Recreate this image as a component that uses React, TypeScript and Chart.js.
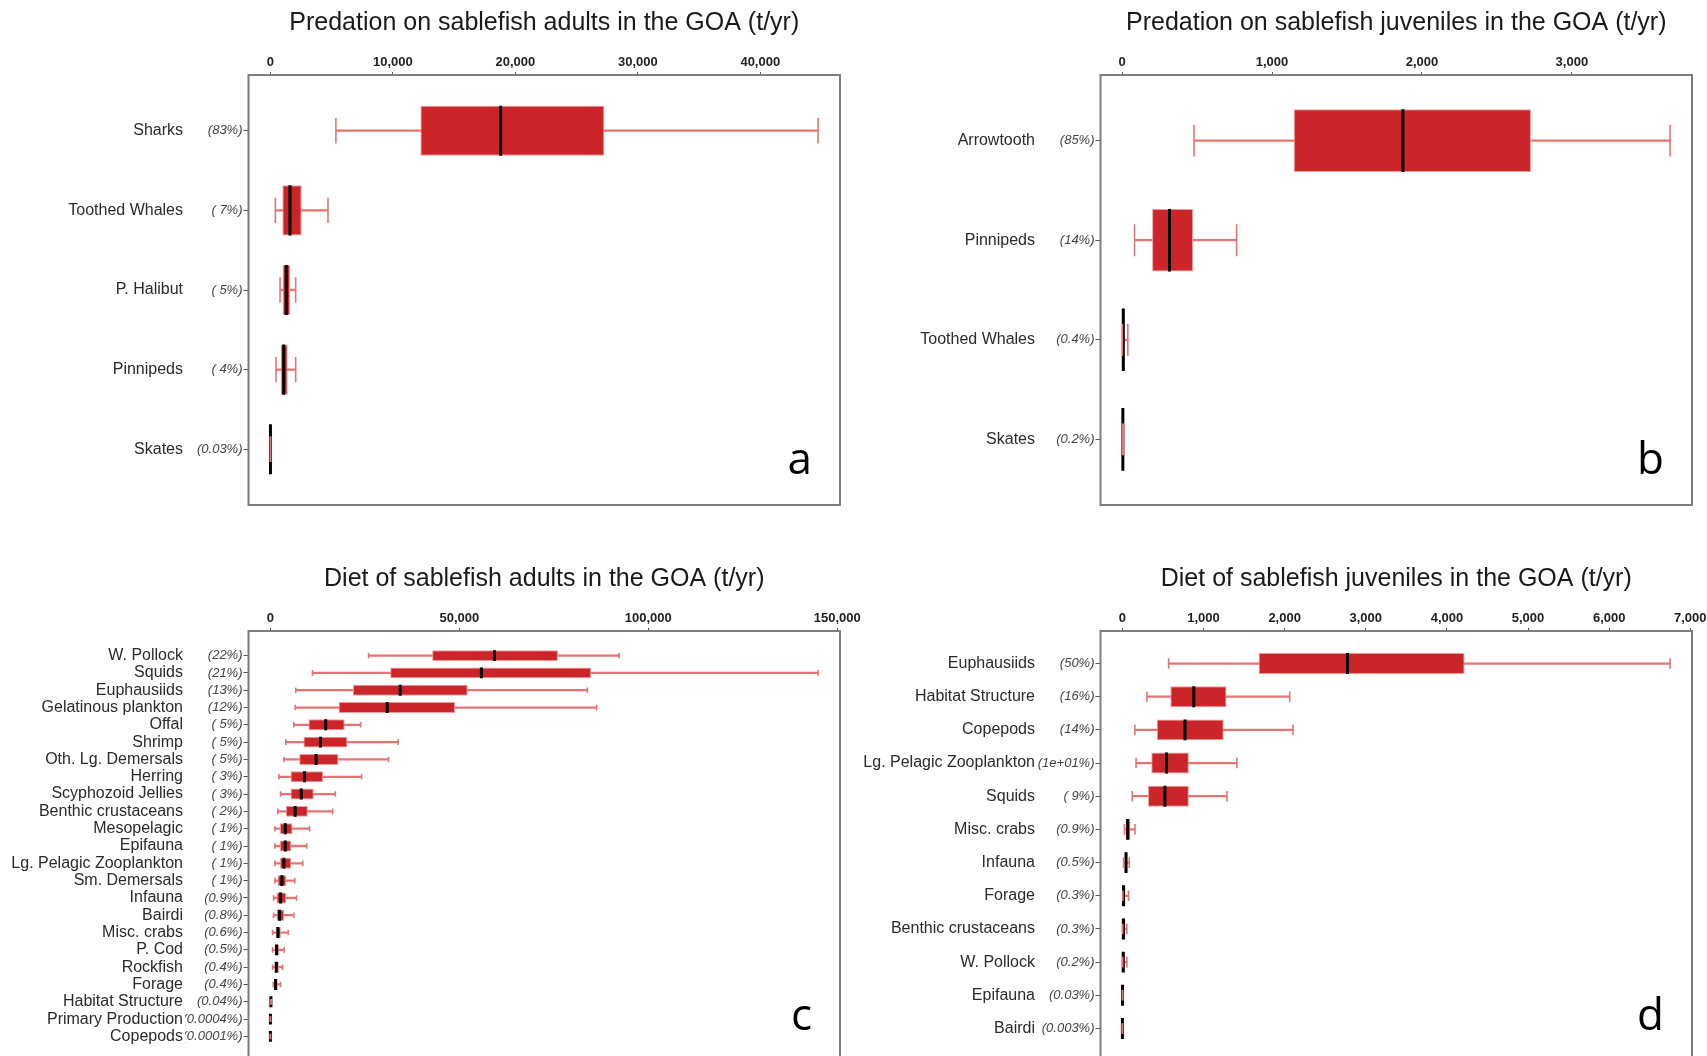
import React, { useEffect, useRef } from 'react';
import { Chart, registerables } from 'chart.js';

Chart.register(...registerables);

// ---------------- Panel a: predation on sablefish adults ----------------
const aTitle = 'Predation on sablefish adults in the GOA (t/yr)';
const aNames = ['Sharks', 'Toothed Whales', 'P. Halibut', 'Pinnipeds', 'Skates'];
const aPcts = ['(83%)', '( 7%)', '( 5%)', '( 4%)', '(0.03%)'];
const aLow = [5350, 410, 790, 460, 3];
const aQ1 = [12250, 980, 1005, 840, 5];
const aMed = [18800, 1600, 1300, 1090, 7];
const aQ3 = [27270, 2555, 1605, 1415, 9];
const aHigh = [44720, 4705, 2065, 2065, 14];
const aTicks = [0, 10000, 20000, 30000, 40000];

// ---------------- Panel b: predation on sablefish juveniles ----------------
const bTitle = 'Predation on sablefish juveniles in the GOA (t/yr)';
const bNames = ['Arrowtooth', 'Pinnipeds', 'Toothed Whales', 'Skates'];
const bPcts = ['(85%)', '(14%)', '(0.4%)', '(0.2%)'];
const bLow = [480, 83, 2, 2];
const bQ1 = [1145, 200, 4, 3];
const bMed = [1873, 316, 8, 5];
const bQ3 = [2727, 473, 16, 7];
const bHigh = [3655, 764, 38, 10];
const bTicks = [0, 1000, 2000, 3000];

// ---------------- Panel c: diet of sablefish adults ----------------
const cTitle = 'Diet of sablefish adults in the GOA (t/yr)';
const cNames = [
  'W. Pollock', 'Squids', 'Euphausiids', 'Gelatinous plankton', 'Offal', 'Shrimp',
  'Oth. Lg. Demersals', 'Herring', 'Scyphozoid Jellies', 'Benthic crustaceans', 'Mesopelagic',
  'Epifauna', 'Lg. Pelagic Zooplankton', 'Sm. Demersals', 'Infauna', 'Bairdi', 'Misc. crabs',
  'P. Cod', 'Rockfish', 'Forage', 'Habitat Structure', 'Primary Production', 'Copepods',
];
const cPcts = [
  '(22%)', '(21%)', '(13%)', '(12%)', '( 5%)', '( 5%)', '( 5%)', '( 3%)', '( 3%)', '( 2%)',
  '( 1%)', '( 1%)', '( 1%)', '( 1%)', '(0.9%)', '(0.8%)', '(0.6%)', '(0.5%)', '(0.4%)', '(0.4%)',
  '(0.04%)', '(0.0004%)', '(0.0001%)',
];
const cLow = [25980, 11130, 6730, 6550, 6200, 4090, 3560, 2240, 2690, 1980, 1190, 1190, 1190, 1190, 840, 840, 580, 580, 580, 760, 40, 0.4, 0.1];
const cQ1 = [42800, 31700, 21860, 18060, 10070, 8750, 7620, 5330, 5330, 4090, 2510, 2510, 2510, 1900, 1630, 1630, 1450, 1110, 1110, 1020, 90, 0.7, 0.2];
const cMed = [59300, 55830, 34340, 30900, 14640, 13240, 12100, 9020, 8150, 6550, 3930, 3930, 3560, 3030, 2690, 2430, 1980, 1630, 1550, 1370, 130, 1, 0.3];
const cQ3 = [76080, 84890, 52210, 48890, 19650, 20360, 17980, 13950, 11470, 9890, 5850, 5500, 5500, 4180, 4180, 3650, 2770, 2340, 2240, 1900, 180, 1.4, 0.4];
const cHigh = [92270, 144930, 83880, 86340, 23870, 33800, 31250, 24130, 17190, 16480, 10340, 9630, 8570, 6460, 6900, 6200, 4720, 3650, 3220, 2690, 260, 2, 0.6];
const cTicks = [0, 50000, 100000, 150000];

// ---------------- Panel d: diet of sablefish juveniles ----------------
const dTitle = 'Diet of sablefish juveniles in the GOA (t/yr)';
const dNames = [
  'Euphausiids', 'Habitat Structure', 'Copepods', 'Lg. Pelagic Zooplankton', 'Squids', 'Misc. crabs',
  'Infauna', 'Forage', 'Benthic crustaceans', 'W. Pollock', 'Epifauna', 'Bairdi',
];
const dPcts = ['(50%)', '(16%)', '(14%)', '(1e+01%)', '( 9%)', '(0.9%)', '(0.5%)', '(0.3%)', '(0.3%)', '(0.2%)', '(0.03%)', '(0.003%)'];
const dLow = [570, 302, 154, 168, 121, 25, 15, 5, 4, 4, 0.5, 0.05];
const dQ1 = [1679, 591, 423, 356, 316, 40, 25, 10, 8, 8, 1, 0.1];
const dMed = [2774, 880, 772, 544, 524, 65, 45, 14, 12, 10, 1.6, 0.15];
const dQ3 = [4218, 1283, 1249, 819, 819, 100, 60, 38, 38, 35, 2.2, 0.2];
const dHigh = [6751, 2062, 2103, 1411, 1289, 155, 85, 75, 55, 55, 3, 0.3];
const dTicks = [0, 1000, 2000, 3000, 4000, 5000, 6000, 7000];

// ---------------- styles ----------------
const BOX_FILL = '#cc2529';
const BOX_EDGE = '#ec9a9a';
const WHISKER = '#e57575';
const MEDIAN = '#000000';
const SANS = "'Liberation Sans', Arial, sans-serif";

const CW = 872;
const CH = 530;

type PanelData = {
  title: string;
  letter: string;
  names: string[];
  pcts: string[];
  low: number[];
  q1: number[];
  med: number[];
  q3: number[];
  high: number[];
  ticks: number[];
};

const panelDecor = {
  id: 'panelDecor',
  afterDraw(chart: any, _args: any, opts: any) {
    const { ctx, chartArea } = chart;
    ctx.save();
    ctx.strokeStyle = '#7d7d7d';
    ctx.lineWidth = 2;
    ctx.strokeRect(chartArea.left, chartArea.top, chartArea.right - chartArea.left, chartArea.bottom - chartArea.top);
    ctx.fillStyle = '#000';
    ctx.font = "44px 'Open Sans', 'Liberation Sans', sans-serif";
    ctx.textAlign = 'right';
    ctx.textBaseline = 'alphabetic';
    ctx.fillText(opts.letter, chartArea.right - 28, chartArea.bottom - 31);
    ctx.restore();
  },
};

function unitPx(ctx: any) {
  const s = ctx.chart.scales.y;
  return Math.abs(s.getPixelForValue(1) - s.getPixelForValue(0));
}

function buildConfig(d: PanelData): any {
  const n = d.names.length;
  const m = 0.5 + 0.04 * n;
  const lo = Math.min(...d.low);
  const hi = Math.max(...d.high);
  const pad = 0.04 * (hi - lo);
  const idx = d.names.map((_, i) => i);

  const yCommon = {
    type: 'linear',
    position: 'left',
    reverse: true,
    bounds: 'data',
    offset: false,
    min: -m,
    max: n - 1 + m,
    afterBuildTicks: (s: any) => {
      s.ticks = idx.map((i) => ({ value: i }));
    },
    border: { display: false },
  };

  return {
    type: 'bar',
    data: {
      datasets: [
        {
          type: 'scatter',
          label: 'whisker ends',
          data: idx.flatMap((i) => [{ x: d.low[i], y: i }, { x: d.high[i], y: i }]),
          pointStyle: 'line',
          pointRotation: 90,
          pointRadius: (c: any) => unitPx(c) * 0.16,
          pointHoverRadius: (c: any) => unitPx(c) * 0.16,
          pointBorderColor: WHISKER,
          pointBackgroundColor: WHISKER,
          pointBorderWidth: 1.6,
          order: 0,
          xAxisID: 'x',
          yAxisID: 'y',
        },
        {
          type: 'scatter',
          label: 'median',
          data: idx.map((i) => ({ x: d.med[i], y: i })),
          pointStyle: 'line',
          pointRotation: 90,
          pointRadius: (c: any) => unitPx(c) * 0.315,
          pointHoverRadius: (c: any) => unitPx(c) * 0.315,
          pointBorderColor: MEDIAN,
          pointBackgroundColor: MEDIAN,
          pointBorderWidth: 3,
          order: 1,
          xAxisID: 'x',
          yAxisID: 'y',
        },
        {
          type: 'bar',
          label: 'interquartile box',
          data: idx.map((i) => ({ x: [d.q1[i], d.q3[i]], y: i })),
          backgroundColor: BOX_FILL,
          borderColor: BOX_EDGE,
          borderWidth: 1,
          borderSkipped: false,
          barPercentage: 0.63,
          categoryPercentage: 1,
          grouped: false,
          order: 2,
          xAxisID: 'x',
          yAxisID: 'y',
        },
        {
          type: 'bar',
          label: 'whisker',
          data: idx.map((i) => ({ x: [d.low[i], d.high[i]], y: i })),
          backgroundColor: WHISKER,
          borderWidth: 0,
          barThickness: 1.6,
          grouped: false,
          order: 3,
          xAxisID: 'x',
          yAxisID: 'y',
        },
      ],
    },
    options: {
      indexAxis: 'y',
      animation: false,
      responsive: false,
      devicePixelRatio: 1,
      events: [],
      layout: { padding: { left: 0, right: CW - 840, top: 0, bottom: CH - 505 } },
      plugins: {
        legend: { display: false },
        tooltip: { enabled: false },
        title: {
          display: true,
          text: d.title,
          fullSize: false,
          color: '#1a1a1a',
          font: { family: SANS, size: 25, weight: 'normal', lineHeight: 1.2 },
          padding: { top: 8, bottom: 0 },
        },
        panelDecor: { letter: d.letter },
      },
      scales: {
        x: {
          type: 'linear',
          position: 'top',
          bounds: 'data',
          offset: false,
          min: lo - pad,
          max: hi + pad,
          afterBuildTicks: (s: any) => {
            s.ticks = d.ticks.map((v) => ({ value: v }));
          },
          afterFit: (s: any) => {
            s.height = 37;
          },
          ticks: {
            autoSkip: false,
            maxRotation: 0,
            padding: 2,
            color: '#222',
            font: { family: SANS, size: 13, weight: 'bold' },
            callback: (v: any) => Number(v).toLocaleString('en-US'),
          },
          grid: { display: true, offset: false, drawOnChartArea: false, drawTicks: true, tickLength: 3, color: '#555', lineWidth: 1 },
          border: { display: false },
        },
        y: {
          ...yCommon,
          weight: 2,
          afterFit: (s: any) => {
            s.width = 185;
          },
          ticks: {
            autoSkip: false,
            padding: 2,
            color: '#2b2b2b',
            font: { family: SANS, size: 16 },
            callback: (v: any) => d.names[v],
          },
          grid: { display: false, offset: false, drawTicks: false },
        },
        yp: {
          ...yCommon,
          weight: 1,
          afterFit: (s: any) => {
            s.width = 63.5;
          },
          ticks: {
            autoSkip: false,
            padding: 1,
            color: '#444444',
            font: { family: SANS, size: 13, style: 'italic' },
            callback: (v: any) => d.pcts[v],
          },
          grid: { display: true, offset: false, drawOnChartArea: false, drawTicks: true, tickLength: 5, color: '#555', lineWidth: 1 },
        },
      },
    },
    plugins: [panelDecor],
  };
}

const panels: { data: PanelData; left: number; top: number }[] = [
  { data: { title: aTitle, letter: 'a', names: aNames, pcts: aPcts, low: aLow, q1: aQ1, med: aMed, q3: aQ3, high: aHigh, ticks: aTicks }, left: 0, top: 0 },
  { data: { title: bTitle, letter: 'b', names: bNames, pcts: bPcts, low: bLow, q1: bQ1, med: bMed, q3: bQ3, high: bHigh, ticks: bTicks }, left: 852, top: 0 },
  { data: { title: cTitle, letter: 'c', names: cNames, pcts: cPcts, low: cLow, q1: cQ1, med: cMed, q3: cQ3, high: cHigh, ticks: cTicks }, left: 0, top: 556 },
  { data: { title: dTitle, letter: 'd', names: dNames, pcts: dPcts, low: dLow, q1: dQ1, med: dMed, q3: dQ3, high: dHigh, ticks: dTicks }, left: 852, top: 556 },
];

function Panel({ data, left, top }: { data: PanelData; left: number; top: number }) {
  const ref = useRef<HTMLCanvasElement>(null);
  useEffect(() => {
    if (!ref.current) return;
    const chart = new Chart(ref.current, buildConfig(data));
    return () => chart.destroy();
  }, [data]);
  return (
    <canvas
      ref={ref}
      width={CW}
      height={CH}
      style={{ position: 'absolute', left, top, width: CW, height: CH }}
    />
  );
}

export default function App() {
  return (
    <div
      style={{
        position: 'absolute',
        left: 0,
        top: 0,
        width: 1707,
        height: 1056,
        overflow: 'hidden',
        background: '#ffffff',
      }}
    >
      {panels.map((p, i) => (
        <Panel key={i} data={p.data} left={p.left} top={p.top} />
      ))}
    </div>
  );
}
